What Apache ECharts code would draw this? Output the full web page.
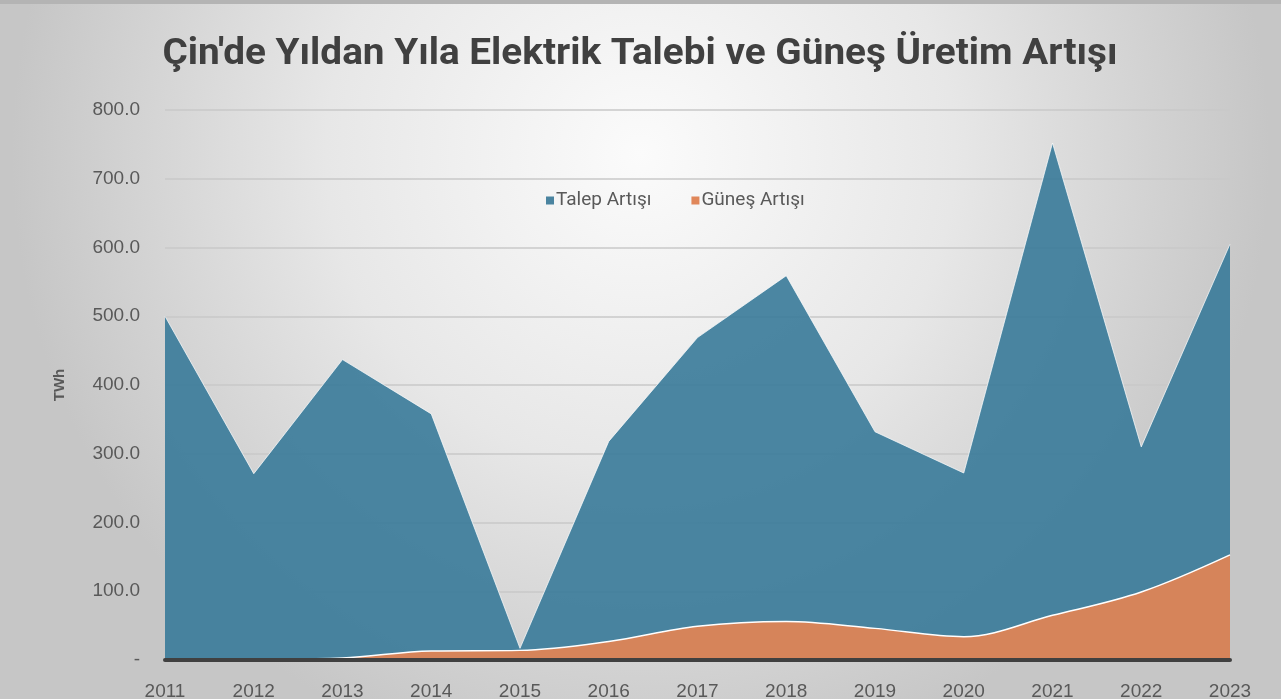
<!DOCTYPE html>
<html>
<head>
<meta charset="utf-8">
<script src="https://cdn.jsdelivr.net/npm/echarts@6/dist/echarts.min.js"></script>
<style>
  html, body { margin: 0; padding: 0; width: 1281px; height: 699px; overflow: hidden; }
  #chart { width: 1281px; height: 699px; }
</style>
</head>
<body>
<div id="chart"></div>
<script>
const years = ['2011','2012','2013','2014','2015','2016','2017','2018','2019','2020','2021','2022','2023'];
const talepArtisi = [500, 271, 437, 358, 17, 318, 469, 559, 332, 272, 752, 310, 605];
const gunesArtisi = [0, 1, 3, 13, 14, 27, 49, 56, 46, 34, 65, 99, 153];
const titleText = "Çin'de Yıldan Yıla Elektrik Talebi ve Güneş Üretim Artışı";
const seriesNames = ['Talep Artışı', 'Güneş Artışı'];
const yAxisName = 'TWh';

// condensed title: measure and squeeze horizontally to the reference width
const titleFont = 'bold 37px Roboto';
const ctx = document.createElement('canvas').getContext('2d');
ctx.font = titleFont;
const titleW = ctx.measureText(titleText).width;
const titleScaleX = 955 / titleW;

const chart = echarts.init(document.getElementById('chart'));
chart.setOption({
  backgroundColor: {
    type: 'radial', x: 0.5, y: 0.22, r: 0.9,
    colorStops: [
      { offset: 0, color: '#fbfbfb' },
      { offset: 0.5, color: '#e7e7e7' },
      { offset: 1, color: '#c6c6c6' }
    ]
  },
  animation: false,
  graphic: [
    { type: 'rect', left: 0, top: 0, shape: { width: 1281, height: 4 }, style: { fill: '#b4b4b4' } },
    {
      type: 'text',
      x: 640, y: 55,
      scaleX: titleScaleX,
      style: {
        text: titleText,
        font: titleFont,
        fill: '#404040',
        textAlign: 'center',
        textVerticalAlign: 'middle'
      }
    }
  ],
  legend: {
    data: seriesNames,
    left: 541,
    top: 186,
    icon: 'rect',
    itemWidth: 8,
    itemHeight: 8,
    itemGap: 40,
    textStyle: { fontFamily: 'Roboto', fontSize: 19, color: '#595959', padding: [0, 0, 0, -3] }
  },
  grid: { left: 165, right: 51, top: 110, bottom: 39, containLabel: false, outerBoundsMode: 'none' },
  xAxis: {
    type: 'category',
    data: years,
    boundaryGap: false,
    axisLine: { show: true, lineStyle: { color: '#404040', width: 4 } },
    axisTick: { show: false },
    axisLabel: { margin: 22, fontFamily: 'Liberation Sans', fontSize: 19, color: '#595959' },
    splitLine: { show: false },
    z: 10
  },
  yAxis: {
    type: 'value',
    min: 0, max: 800, interval: 100,
    name: yAxisName,
    nameLocation: 'middle',
    nameGap: 98,
    nameTextStyle: { fontFamily: 'Liberation Sans', fontWeight: 'bold', fontSize: 15, color: '#595959' },
    axisLine: { show: false },
    axisTick: { show: false },
    axisLabel: {
      margin: 25,
      fontFamily: 'Liberation Sans', fontSize: 19, color: '#595959',
      formatter: function (v) { return v === 0 ? '-' : v.toFixed(1); }
    },
    splitLine: { show: true, lineStyle: { color: '#c9c9c9', width: 1.5 } }
  },
  series: [
    {
      name: seriesNames[0],
      type: 'line',
      data: talepArtisi,
      symbol: 'none',
      smooth: false,
      itemStyle: { color: '#4a84a0' },
      lineStyle: { color: 'rgba(255,255,255,0.7)', width: 1 },
      areaStyle: { color: '#397a99', opacity: 0.9 },
      z: 2
    },
    {
      name: seriesNames[1],
      type: 'line',
      data: gunesArtisi,
      symbol: 'none',
      smooth: 0.35,
      itemStyle: { color: '#e0875a' },
      lineStyle: { color: '#ffffff', width: 1.5 },
      areaStyle: { color: '#d6845a', opacity: 1 },
      z: 3
    }
  ]
});
</script>
</body>
</html>
